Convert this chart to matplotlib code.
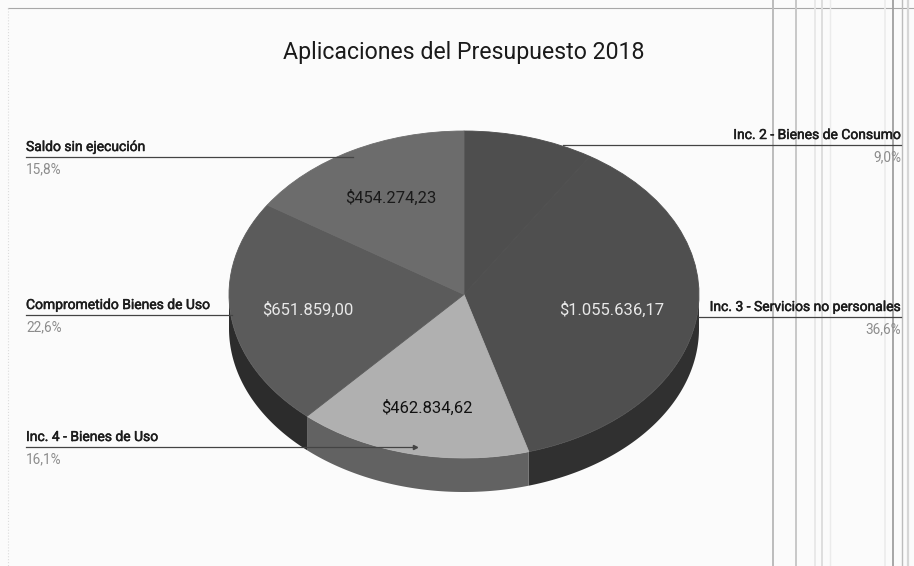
import numpy as np
import matplotlib
matplotlib.use('Agg')
import matplotlib.pyplot as plt
import matplotlib.patheffects as pe

plt.rcParams['font.family'] = ['Roboto', 'DejaVu Sans']

title = 'Aplicaciones del Presupuesto 2018'
categories = ['Inc. 2 - Bienes de Consumo', 'Inc. 3 - Servicios no personales',
              'Inc. 4 - Bienes de Uso', 'Comprometido Bienes de Uso', 'Saldo sin ejecución']
shares = [9.0, 36.6, 16.1, 22.6, 15.8]
share_labels = ['9,0%', '36,6%', '16,1%', '22,6%', '15,8%']
amounts = ['', '$1.055.636,17', '$462.834,62', '$651.859,00', '$454.274,23']

top_colors = ['#4e4e4e', '#4f4f4f', '#b0b0b0', '#5b5b5b', '#6c6c6c']
side_colors = ['#2e2e2e', '#303030', '#626262', '#2c2c2c', '#3a3a3a']
amount_colors = ['white', '#e8e8e8', '#111111', '#e8e8e8', '#1a1a1a']

W, H = 914, 566
cx, cy, rx, ry, depth = 464, 294.5, 235, 163.5, 34

fig = plt.figure(figsize=(W / 100, H / 100), dpi=100, facecolor='#fbfbfb')

# page scan marks live on a pixel-sized overlay
page = fig.add_axes([0, 0, 1, 1], zorder=1)
page.set_xlim(0, W)
page.set_ylim(H, 0)
page.axis('off')

# pie axes sized so that radius 1 is rx by ry, which gives the tilted look
pie_w, pie_h = 2.5 * rx, 2.5 * ry
ax = fig.add_axes([(cx - pie_w / 2) / W, 1 - (cy + pie_h / 2) / H, pie_w / W, pie_h / H], zorder=2)
wedges, _ = ax.pie(shares, colors=top_colors, startangle=90, counterclock=False, radius=1)
for w, c in zip(wedges, top_colors):
    w.set_edgecolor(c)
    w.set_linewidth(0.6)
ax.set_aspect('auto')
ax.set_xlim(-1.25, 1.25)
ax.set_ylim(-1.25, 1.25)
ax.patch.set_alpha(0)

# extruded rim below the front of each slice
d = depth / ry
edges = np.cumsum([0] + shares) / sum(shares) * 2 * np.pi
for a, b, c in zip(edges[:-1], edges[1:], side_colors):
    t = np.linspace(a, b, 200)
    t = t[(t > np.pi / 2) & (t < 3 * np.pi / 2)]
    if len(t) == 0:
        continue
    x, y = np.sin(t), np.cos(t)
    ax.fill(np.r_[x, x[::-1]], np.r_[y, y[::-1] - d], color=c, lw=0, zorder=0)

ax_over = fig.add_axes([0, 0, 1, 1], zorder=3)
ax_over.set_xlim(0, W)
ax_over.set_ylim(H, 0)
ax_over.axis('off')

# scan lines
page.plot([8, W], [8, 8], color='#a8a8a8', lw=0.8)
page.plot([8, 8], [8, H], color='#dcdcdc', lw=0.8, ls=':')
for x, c, lw in [(773, '#bcbcbc', 1.4), (796, '#c8c8c8', 1.4), (815, '#e6e6e6', 1.2), (822, '#dedede', 1.4),
                 (830, '#ebebeb', 1.0), (885, '#ececec', 1.2), (893, '#a0a0a0', 1.3), (902, '#bcbcbc', 1.0),
                 (908, '#d6d6d6', 1.6)]:
    page.plot([x, x], [0, H], color=c, lw=lw)

# callouts: label side, line y, line start, line end
callouts = [('right', 145, 563, 901), ('right', 317, 698, 901), ('left', 447, 26, 415),
            ('left', 315, 26, 232), ('left', 157, 26, 353)]
bolder = [pe.withStroke(linewidth=0.35, foreground='#1c1c1c')]
for name, pct, (side, ly, x0, x1) in zip(categories, share_labels, callouts):
    tx = x1 if side == 'right' else x0
    ax_over.plot([x0, x1], [ly, ly], color='#444444', lw=0.9)
    ax_over.text(tx, ly - 3, name, ha=side, va='bottom', fontsize=10, color='#1c1c1c', path_effects=bolder)
    ax_over.text(tx, ly + 5, pct, ha=side, va='top', fontsize=9.8, color='#8c8c8c')

# small arrow tip where the Inc. 4 line ends inside the slice
ax_over.plot([415], [447], marker='>', ms=3, color='#444444', lw=0)

# amounts placed at their slices
amount_xy = [None, (612, 310), (427, 408), (308, 310), (391, 198)]
for txt, xy, c in zip(amounts, amount_xy, amount_colors):
    if xy:
        ax_over.text(xy[0], xy[1], txt, ha='center', va='center', fontsize=12, color=c)

ax_over.text(464, 52, title, ha='center', va='center', fontsize=16.7, color='#1a1a1a')

fig.savefig('out.png', dpi=100, facecolor=fig.get_facecolor())
